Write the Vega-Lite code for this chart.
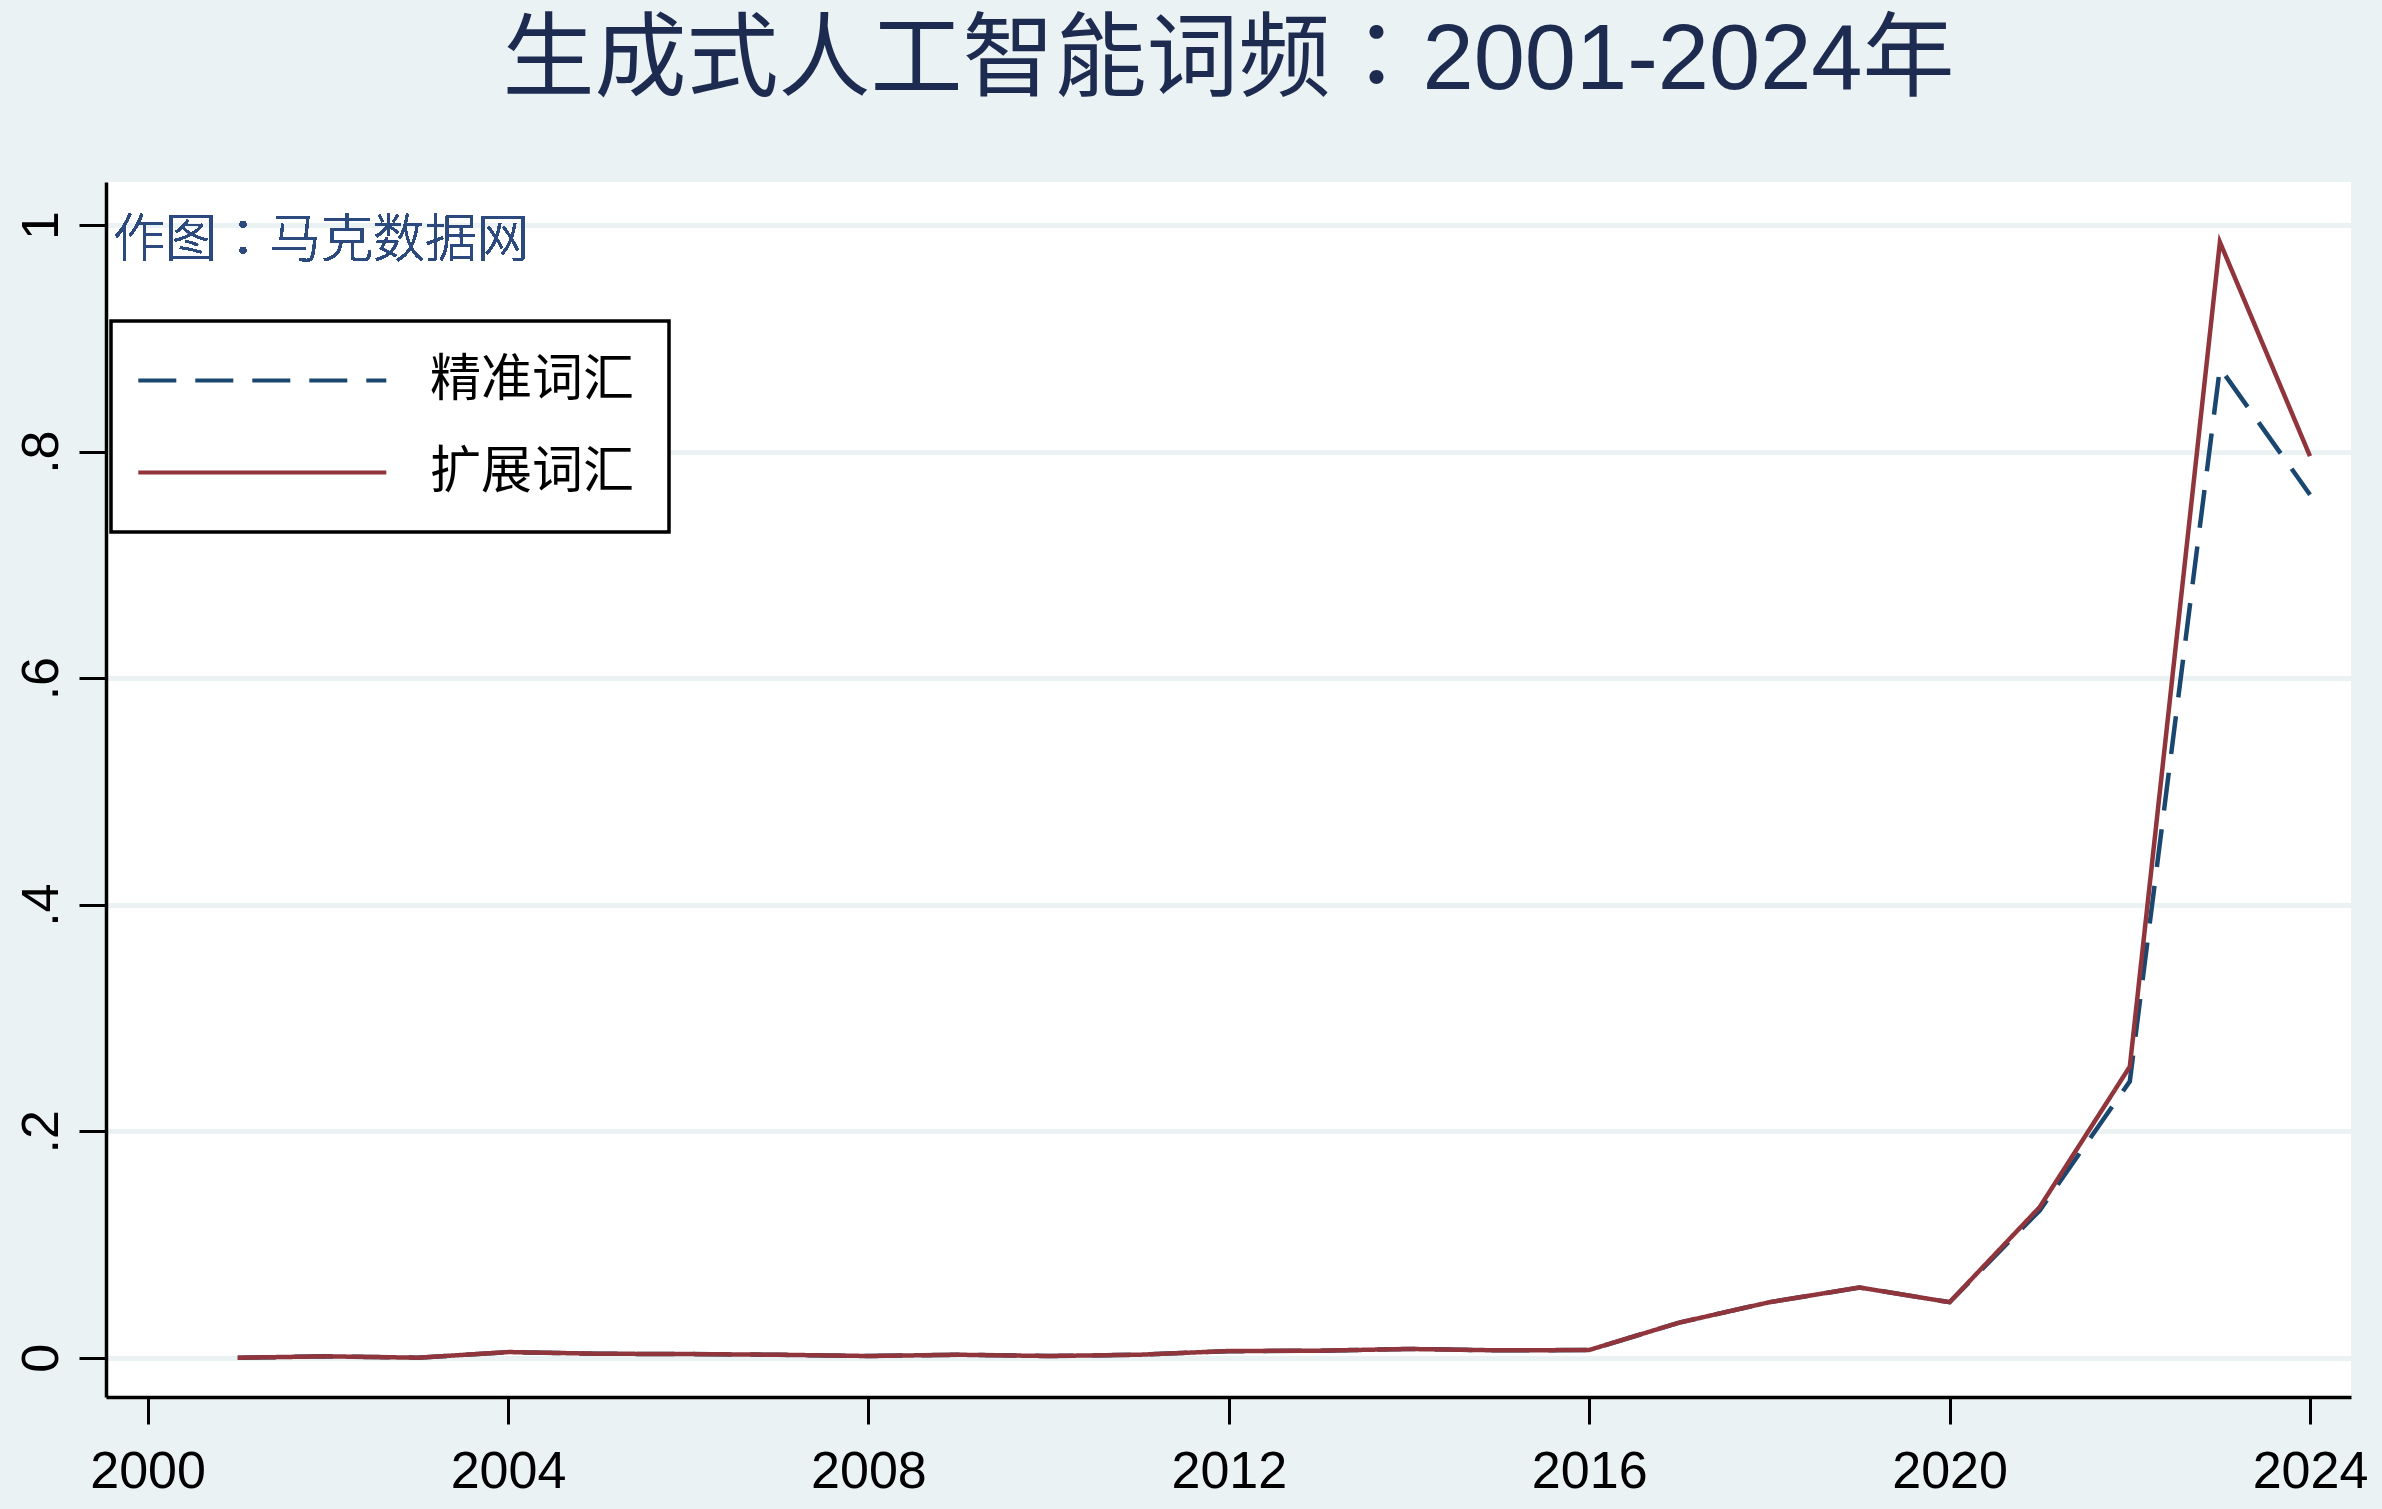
{
  "$schema": "https://vega.github.io/schema/vega-lite/v6.json",
  "autosize": {"type": "none"},
  "width": 2245,
  "height": 1215,
  "padding": {"left": 106, "top": 182, "right": 31, "bottom": 112},
  "background": "#eaf2f3",
  "title": {
    "text": "生成式人工智能词频：2001-2024年",
    "font": "Liberation Sans, Noto Sans CJK TC",
    "fontSize": 92,
    "fontWeight": "normal",
    "color": "#1c2b4f",
    "anchor": "middle",
    "frame": "group",
    "baseline": "alphabetic",
    "offset": 1
  },
  "data": {
    "values": [
      {"year": 2001, "series": "精准词汇", "value": 0.0},
      {"year": 2002, "series": "精准词汇", "value": 0.0012},
      {"year": 2003, "series": "精准词汇", "value": 0.0},
      {"year": 2004, "series": "精准词汇", "value": 0.0048},
      {"year": 2005, "series": "精准词汇", "value": 0.0035},
      {"year": 2006, "series": "精准词汇", "value": 0.0032},
      {"year": 2007, "series": "精准词汇", "value": 0.0026},
      {"year": 2008, "series": "精准词汇", "value": 0.0015},
      {"year": 2009, "series": "精准词汇", "value": 0.0026},
      {"year": 2010, "series": "精准词汇", "value": 0.0015},
      {"year": 2011, "series": "精准词汇", "value": 0.0026},
      {"year": 2012, "series": "精准词汇", "value": 0.0057},
      {"year": 2013, "series": "精准词汇", "value": 0.0062},
      {"year": 2014, "series": "精准词汇", "value": 0.0077},
      {"year": 2015, "series": "精准词汇", "value": 0.0065},
      {"year": 2016, "series": "精准词汇", "value": 0.0068},
      {"year": 2017, "series": "精准词汇", "value": 0.031},
      {"year": 2018, "series": "精准词汇", "value": 0.049},
      {"year": 2019, "series": "精准词汇", "value": 0.062},
      {"year": 2020, "series": "精准词汇", "value": 0.049},
      {"year": 2021, "series": "精准词汇", "value": 0.130},
      {"year": 2022, "series": "精准词汇", "value": 0.244},
      {"year": 2023, "series": "精准词汇", "value": 0.874},
      {"year": 2024, "series": "精准词汇", "value": 0.762},
      {"year": 2001, "series": "扩展词汇", "value": 0.0},
      {"year": 2002, "series": "扩展词汇", "value": 0.0012},
      {"year": 2003, "series": "扩展词汇", "value": 0.0},
      {"year": 2004, "series": "扩展词汇", "value": 0.005},
      {"year": 2005, "series": "扩展词汇", "value": 0.0035},
      {"year": 2006, "series": "扩展词汇", "value": 0.0032},
      {"year": 2007, "series": "扩展词汇", "value": 0.0026},
      {"year": 2008, "series": "扩展词汇", "value": 0.0015},
      {"year": 2009, "series": "扩展词汇", "value": 0.0026},
      {"year": 2010, "series": "扩展词汇", "value": 0.0015},
      {"year": 2011, "series": "扩展词汇", "value": 0.0026},
      {"year": 2012, "series": "扩展词汇", "value": 0.0059},
      {"year": 2013, "series": "扩展词汇", "value": 0.0062},
      {"year": 2014, "series": "扩展词汇", "value": 0.0077},
      {"year": 2015, "series": "扩展词汇", "value": 0.0065},
      {"year": 2016, "series": "扩展词汇", "value": 0.0068},
      {"year": 2017, "series": "扩展词汇", "value": 0.031},
      {"year": 2018, "series": "扩展词汇", "value": 0.049},
      {"year": 2019, "series": "扩展词汇", "value": 0.062},
      {"year": 2020, "series": "扩展词汇", "value": 0.049},
      {"year": 2021, "series": "扩展词汇", "value": 0.133},
      {"year": 2022, "series": "扩展词汇", "value": 0.257},
      {"year": 2023, "series": "扩展词汇", "value": 0.985},
      {"year": 2024, "series": "扩展词汇", "value": 0.796}
    ]
  },
  "layer": [
    {
      "mark": {"type": "line", "strokeWidth": 4.5, "strokeJoin": "miter", "strokeCap": "butt"},
      "encoding": {
        "x": {
          "field": "year",
          "type": "quantitative",
          "scale": {"domain": [1999.538, 2024.455], "nice": false, "zero": false},
          "axis": {
            "title": null,
            "values": [2000, 2004, 2008, 2012, 2016, 2020, 2024],
            "format": "d",
            "grid": false,
            "domainColor": "black",
            "domainWidth": 3.5,
            "tickColor": "black",
            "tickWidth": 3,
            "tickSize": 27,
            "labelPadding": 22,
            "labelFont": "Liberation Sans",
            "labelFontSize": 52,
            "labelColor": "black",
            "labelFlush": false,
            "labelOverlap": false
          }
        },
        "y": {
          "field": "value",
          "type": "quantitative",
          "scale": {"domain": [-0.0347, 1.0381], "nice": false, "zero": false},
          "axis": {
            "title": null,
            "values": [0, 0.2, 0.4, 0.6, 0.8, 1],
            "labelExpr": "datum.value == 0 ? '0' : datum.value == 1 ? '1' : replace(format(datum.value, '.1f'), '0.', '.')",
            "grid": true,
            "gridColor": "#eaf2f3",
            "gridWidth": 5,
            "domainColor": "black",
            "domainWidth": 3.5,
            "tickColor": "black",
            "tickWidth": 3,
            "tickSize": 27,
            "labelPadding": 22,
            "labelAngle": -90,
            "labelAlign": "center",
            "labelBaseline": "alphabetic",
            "labelFont": "Liberation Sans",
            "labelFontSize": 52,
            "labelColor": "black",
            "labelFlush": false,
            "labelOverlap": false
          }
        },
        "color": {
          "field": "series",
          "type": "nominal",
          "sort": ["精准词汇", "扩展词汇"],
          "scale": {"domain": ["精准词汇", "扩展词汇"], "range": ["#1a476f", "#90353b"]},
          "legend": {
            "title": null,
            "orient": "none",
            "legendX": 5,
            "legendY": 139,
            "symbolType": "M-3.22,0H21.58",
            "symbolSize": 400,
            "symbolStrokeWidth": 4,
            "labelFont": "Noto Sans CJK SC",
            "labelFontSize": 51,
            "labelLimit": 500,
            "labelColor": "black",
            "labelOffset": 234,
            "padding": 34,
            "rowPadding": 40,
            "fillColor": "white",
            "strokeColor": "black",
            "encode": {"legend": {"update": {"strokeWidth": {"value": 3.5}}}}
          }
        },
        "strokeDash": {
          "field": "series",
          "type": "nominal",
          "sort": ["精准词汇", "扩展词汇"],
          "scale": {"domain": ["精准词汇", "扩展词汇"], "range": [[38, 19], [1, 0]]},
          "legend": {
            "title": null,
            "orient": "none",
            "legendX": 5,
            "legendY": 139,
            "symbolType": "M-3.22,0H21.58",
            "symbolSize": 400,
            "symbolStrokeWidth": 4,
            "labelFont": "Noto Sans CJK SC",
            "labelFontSize": 51,
            "labelLimit": 500,
            "labelColor": "black",
            "labelOffset": 234,
            "padding": 34,
            "rowPadding": 40,
            "fillColor": "white",
            "strokeColor": "black",
            "encode": {"legend": {"update": {"strokeWidth": {"value": 3.5}}}}
          }
        }
      }
    },
    {
      "mark": {
        "type": "text",
        "text": "作图：马克数据网",
        "font": "Noto Sans CJK TC",
        "fontSize": 52,
        "fontWeight": 300,
        "color": "#2c4a7e",
        "align": "left",
        "baseline": "middle"
      },
      "encoding": {
        "x": {"datum": 1999.616, "type": "quantitative"},
        "y": {"datum": 0.986, "type": "quantitative"}
      }
    }
  ],
  "config": {
    "view": {"fill": "white", "stroke": null}
  }
}
